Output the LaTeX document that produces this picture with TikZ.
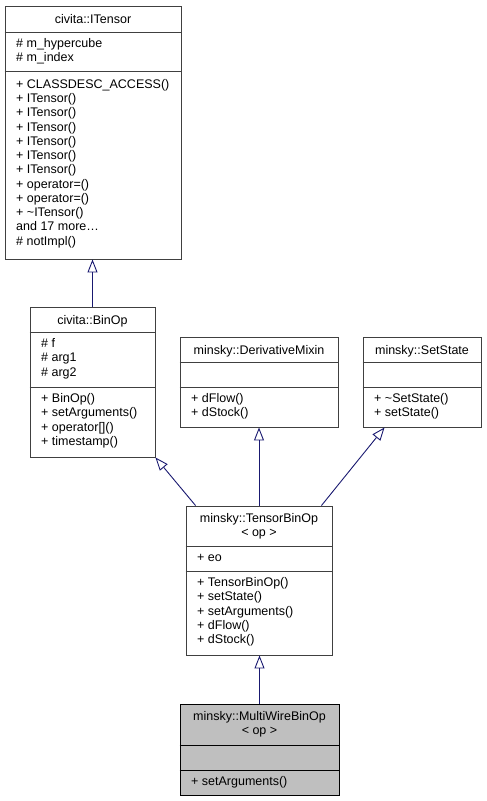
\documentclass[tikz,border=0pt]{standalone}
\usepackage{fontspec}
\setmainfont{Liberation Sans}
\usetikzlibrary{arrows.meta}
\definecolor{edgeblue}{HTML}{191970}
\definecolor{boxline}{HTML}{404040}
\definecolor{hlfill}{HTML}{BFBFBF}
\tikzset{
  classbox/.style={draw=boxline, line width=0.9pt, inner sep=0pt, fill=white},
  sepline/.style={draw=boxline, line width=0.9pt},
  txt/.style={inner sep=0pt, anchor=base west, font=\fontsize{12.5}{14}\selectfont},
  ttl/.style={inner sep=0pt, anchor=base, font=\fontsize{12.5}{14}\selectfont},
  inh/.style={draw=edgeblue, line width=0.9pt, -{Triangle[open, length=13pt, width=10pt]}}
}
\newcommand\mylines[5]{%
  \foreach \t [count=\i] in {#5} {\node[txt] (#1\i) at (#2, {#3+(\i-1)*#4}) {\t};}%
}
\begin{document}
\begin{tikzpicture}[x=1pt, y=-1pt]
\useasboundingbox (0,0) rectangle (487,801);

% civita::ITensor
\node[classbox, minimum width=176pt, minimum height=253pt] (it) at (93,132.5) {};
\draw[sepline] (it.west |- 0,32) -- (it.east |- 0,32);
\draw[sepline] (it.west |- 0,71.5) -- (it.east |- 0,71.5);
\node[ttl] (itt) at (93,23.5) {civita::ITensor};
\mylines{ita}{16}{47}{14.3}{{\# m\_hypercube},{\# m\_index}}
\mylines{itm}{16}{88.3}{14.25}{{+ CLASSDESC\_ACCESS()},{+ ITensor()},{+ ITensor()},{+ ITensor()},{+ ITensor()},{+ ITensor()},{+ ITensor()},{+ operator=()},{+ operator=()},{+ \textasciitilde ITensor()},{and 17 more…},{\# notImpl()}}

% civita::BinOp
\node[classbox, minimum width=125pt, minimum height=150pt] (binop) at (92.5,382) {};
\draw[sepline] (binop.west |- 0,332) -- (binop.east |- 0,332);
\draw[sepline] (binop.west |- 0,387) -- (binop.east |- 0,387);
\node[ttl] (binopt) at (92.5,324) {civita::BinOp};
\mylines{boa}{41}{347.5}{14.25}{{\# f},{\# arg1},{\# arg2}}
\mylines{bom}{41}{402.5}{14.25}{{+ BinOp()},{+ setArguments()},{+ operator[]()},{+ timestamp()}}

% minsky::DerivativeMixin
\node[classbox, minimum width=158pt, minimum height=90pt] (dm) at (259,382) {};
\draw[sepline] (dm.west |- 0,362) -- (dm.east |- 0,362);
\draw[sepline] (dm.west |- 0,387) -- (dm.east |- 0,387);
\node[ttl] (dmt) at (259,354) {minsky::DerivativeMixin};
\mylines{dmm}{191}{402.5}{14.25}{{+ dFlow()},{+ dStock()}}

% minsky::SetState
\node[classbox, minimum width=118pt, minimum height=90pt] (ss) at (422,382) {};
\draw[sepline] (ss.west |- 0,362) -- (ss.east |- 0,362);
\draw[sepline] (ss.west |- 0,387) -- (ss.east |- 0,387);
\node[ttl] (sst) at (422,354) {minsky::SetState};
\mylines{ssm}{374}{402.5}{14.25}{{+ \textasciitilde SetState()},{+ setState()}}

% minsky::TensorBinOp< op >
\node[classbox, minimum width=146pt, minimum height=149pt] (tbo) at (259,580.5) {};
\draw[sepline] (tbo.west |- 0,546) -- (tbo.east |- 0,546);
\draw[sepline] (tbo.west |- 0,571) -- (tbo.east |- 0,571);
\node[ttl] (tbot1) at (259,522.5) {minsky::TensorBinOp};
\node[ttl] (tbot2) at (259,536.5) {< op >};
\mylines{tboa}{197}{561.5}{14.25}{{+ eo}}
\mylines{tbom}{197}{586.5}{14.25}{{+ TensorBinOp()},{+ setState()},{+ setArguments()},{+ dFlow()},{+ dStock()}}

% minsky::MultiWireBinOp< op >
\node[classbox, fill=hlfill, draw=black, minimum width=159pt, minimum height=91pt] (mw) at (259.5,749.5) {};
\draw[sepline, draw=black] (mw.west |- 0,745) -- (mw.east |- 0,745);
\draw[sepline, draw=black] (mw.west |- 0,770) -- (mw.east |- 0,770);
\node[ttl] (mwt1) at (259.5,720.5) {minsky::MultiWireBinOp};
\node[ttl] (mwt2) at (259.5,734.5) {< op >};
\mylines{mwm}{191}{785.5}{14.25}{{+ setArguments()}}

% inheritance
\draw[inh] (binop.north) -- (binop.north |- it.south);
\draw[inh] ([xshift=10pt]tbo.north west) -- (binop.south east);
\draw[inh] (tbo.north) -- (dm.south);
\draw[inh] ([xshift=-11pt]tbo.north east) -- ([xshift=22pt]ss.south west);
\draw[inh] (mw.north) -- (mw.north |- tbo.south);
\end{tikzpicture}
\end{document}
